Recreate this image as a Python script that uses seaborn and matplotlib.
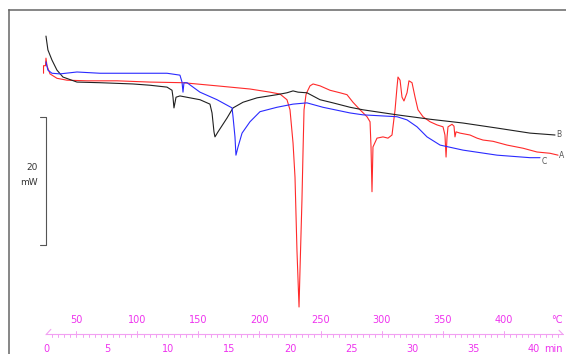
import numpy as np
import pandas as pd
import matplotlib
matplotlib.use("Agg")
import matplotlib.pyplot as plt
import seaborn as sns

# DSC curves: time (min) vs heat flow (mW, arbitrary offset)
time_a = [-0.20, -0.20, -0.04, 0.00, 0.08, 0.33, 0.90, 1.72, 3.36, 5.82, 8.52, 11.23, 14.02,
          16.72, 18.36, 19.18, 19.75, 20.00, 20.25, 20.41, 20.57, 20.74, 20.82, 20.98, 21.07,
          21.15, 21.31, 21.39, 21.64, 21.89, 22.46, 23.28, 24.10, 24.67, 25.16, 25.74, 26.31,
          26.56, 26.64, 26.72, 26.80, 27.13, 27.62, 28.03, 28.36, 28.44, 28.61, 28.77, 28.85,
          29.02, 29.18, 29.34, 29.59, 29.75, 30.00, 30.25, 30.49, 30.90, 31.48, 32.05, 32.54,
          32.70, 32.79, 32.87, 32.95, 33.28, 33.44, 33.52, 33.61, 33.93, 34.75, 35.33, 35.82,
          36.64, 37.79, 39.10, 40.25, 41.31, 41.97]
flow_a = [27.1, 28.3, 28.3, 29.5, 28.3, 27.0, 26.3, 26.0, 25.9, 25.9, 25.7, 25.6, 25.1,
          24.6, 24.1, 23.8, 22.9, 21.3, 16.0, 10.6, -1.0, -10.0, -4.1, 7.0, 14.9,
          21.3, 23.7, 24.1, 25.1, 25.4, 25.1, 24.4, 24.0, 23.7, 22.5, 21.3, 20.2,
          19.4, 15.4, 8.3, 15.4, 16.8, 17.0, 16.8, 17.3, 18.6, 21.3, 24.9, 26.5,
          26.0, 23.3, 22.7, 24.0, 25.9, 25.6, 23.3, 21.3, 20.2, 19.4, 18.9, 18.6,
          17.3, 13.8, 17.0, 18.6, 19.0, 18.7, 17.0, 17.8, 17.6, 17.3, 16.8, 16.5,
          16.3, 15.7, 15.2, 14.6, 14.4, 14.1]

time_b = [0.00, 0.16, 0.49, 0.90, 1.39, 2.54, 4.43, 7.13, 8.52, 9.92, 10.33, 10.41, 10.49,
          10.66, 10.98, 12.62, 13.44, 13.61, 13.77, 13.85, 14.10, 14.84, 15.33, 16.15, 17.30,
          18.93, 19.75, 20.25, 20.66, 21.39, 22.46, 23.52, 24.92, 25.98, 28.77, 31.48, 34.18,
          36.97, 39.67, 41.72]
flow_b = [33.0, 30.8, 29.2, 27.6, 26.5, 25.7, 25.6, 25.4, 25.2, 24.9, 24.4, 23.3, 21.6,
          23.3, 23.5, 22.9, 22.2, 20.8, 17.8, 17.0, 17.8, 20.0, 21.6, 22.5, 23.2,
          23.7, 24.0, 24.3, 24.1, 24.0, 22.9, 22.4, 21.7, 21.3, 20.5, 19.8, 19.2,
          18.4, 17.6, 17.3]

time_c = [0.00, 0.16, 0.49, 1.15, 2.54, 4.43, 7.13, 9.92, 10.98, 11.15, 11.23, 11.31, 11.56,
          12.62, 14.02, 15.25, 15.33, 15.49, 15.57, 15.74, 16.07, 16.72, 17.54, 18.93, 20.25,
          21.39, 22.70, 24.92, 25.98, 28.77, 29.59, 30.41, 31.23, 32.30, 34.18, 36.97, 39.67,
          40.49]
flow_c = [28.9, 27.6, 27.1, 27.0, 27.3, 27.1, 27.1, 27.1, 26.8, 25.7, 24.1, 25.6, 25.6,
          24.1, 22.9, 21.6, 20.2, 17.0, 14.1, 15.4, 17.6, 19.4, 21.0, 21.7, 22.2,
          22.4, 21.7, 20.8, 20.5, 20.2, 19.7, 18.6, 17.0, 15.7, 14.9, 14.1, 13.7,
          13.7]

temp_labels = [50, 100, 150, 200, 250, 300, 350, 400]
min_labels = [0, 5, 10, 15, 20, 25, 30, 35, 40]
start_temp = 25.0
rate = 10.0  # K/min

sns.set_style("white")
plt.rcParams['font.family'] = ['DejaVu Sans']

fig = plt.figure(figsize=(5.66, 3.54), dpi=100)
ax = fig.add_axes([9 / 566, 0, 557 / 566, 344 / 354])

curves = [(time_a, flow_a, "#ff2a2a"), (time_b, flow_b, "#202020"), (time_c, flow_c, "#2a2aff")]
for t, f, col in curves:
    df = pd.DataFrame({"t": t, "f": f})
    sns.lineplot(data=df, x="t", y="f", color=col, lw=0.8, estimator=None, sort=False, ax=ax)

ax.set_xlim(-3.03, 42.62)
ax.set_ylim(-17.46, 37.14)
ax.set_xlabel("")
ax.set_ylabel("")
ax.set_xticks([])
ax.set_yticks([])
for s in ["right", "bottom"]:
    ax.spines[s].set_visible(False)
for s in ["left", "top"]:
    ax.spines[s].set_color("#666666")
    ax.spines[s].set_linewidth(1.1)

# curve labels
ax.text(time_b[-1] + 0.1, flow_b[-1], "B", fontsize=5.5, color="#555555", va="center", ha="left")
ax.text(time_a[-1] + 0.05, flow_a[-1], "A", fontsize=5.5, color="#555555", va="center", ha="left")
ax.text(time_c[-1] + 0.15, flow_c[-1] - 0.6, "C", fontsize=5.5, color="#555555", va="center", ha="left")

# 20 mW scale bar
bar_top, bar_bot = 20.2, -0.1
ax.plot([-0.45, 0, 0, -0.45], [bar_top, bar_top, bar_bot, bar_bot], color="#555555", lw=0.8)
ax.text(-0.66, 12.2, "20", fontsize=6.5, color="#333333", ha="right", va="center")
ax.text(-0.66, 9.7, "mW", fontsize=6.5, color="#333333", ha="right", va="center")

# time / temperature ruler
ruler_y = -14.3
pink = "#f2a0f2"
mag = "#ee33ee"
ax.plot([0, 42.35], [ruler_y, ruler_y], color=pink, lw=0.8, clip_on=False)
ax.plot([0, 0.4], [ruler_y - 0.1, ruler_y + 0.75], color=pink, lw=0.8)
ax.plot([42.05, 42.35], [ruler_y + 0.6, ruler_y], color=pink, lw=0.8)
for tk in np.arange(0.5, 42.1, 0.5):
    ax.plot([tk, tk], [ruler_y, ruler_y - 0.5], color=pink, lw=0.7)
for T in temp_labels:
    tk = (T - start_temp) / rate
    ax.plot([tk, tk], [ruler_y, ruler_y + 0.55], color=pink, lw=0.7)
    ax.text(tk, -12.1, str(T), fontsize=7, color=mag, ha="center", va="center")
ax.text(41.9, -12.1, "°C", fontsize=7, color=mag, ha="center", va="center")
for m in min_labels:
    ax.text(m, -16.6, str(m), fontsize=7, color=mag, ha="center", va="center", clip_on=False)
ax.text(41.6, -16.6, "min", fontsize=7, color=mag, ha="center", va="center", clip_on=False)

fig.savefig("out.png", dpi=100)
